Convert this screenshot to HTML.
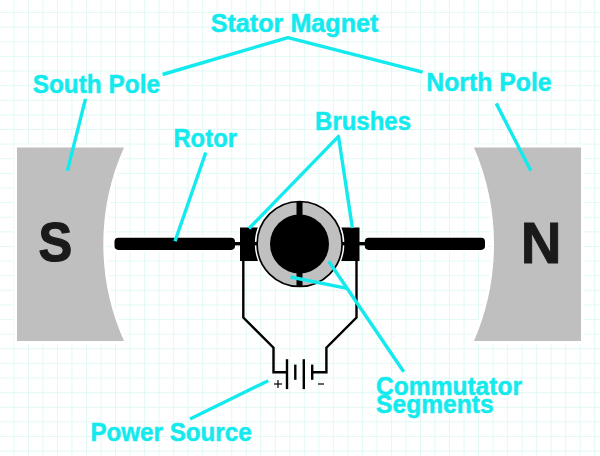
<!DOCTYPE html>
<html>
<head>
<meta charset="utf-8">
<style>
html,body{margin:0;padding:0;background:#fff;}
body{width:600px;height:456px;overflow:hidden;position:relative;}
svg{position:absolute;left:0;top:0;display:block;}
text{font-family:"Liberation Sans",sans-serif;font-weight:bold;}
</style>
</head>
<body>
<svg width="600" height="456" viewBox="0 0 600 456">
  <defs>
    <pattern id="grid" x="13.43" y="12.05" width="14.52" height="14.62" patternUnits="userSpaceOnUse">
      <rect x="0" y="0" width="1" height="14.62" fill="#e1f9f6"/>
      <rect x="0" y="0" width="14.52" height="1" fill="#e1f9f6"/>
    </pattern>
  </defs>
  <rect x="0" y="0" width="600" height="456" fill="#fff"/>
  <rect x="0" y="0" width="600" height="456" fill="url(#grid)"/>

  <!-- magnets -->
  <path d="M17,147.5 L124,147.5 A236.4,236.4 0 0 0 124,341 L17,341 Z" fill="#fff" stroke="#fff" stroke-width="6" stroke-linejoin="round"/>
  <path d="M474,147.5 L581,147.5 L581,341 L474,341 A244,244 0 0 0 474,147.5 Z" fill="#fff" stroke="#fff" stroke-width="6" stroke-linejoin="round"/>
  <path d="M17,147.5 L124,147.5 A236.4,236.4 0 0 0 124,341 L17,341 Z" fill="#bfbfbf"/>
  <path d="M474,147.5 L581,147.5 L581,341 L474,341 A244,244 0 0 0 474,147.5 Z" fill="#bfbfbf"/>
  <text x="0" y="0" font-size="55" text-anchor="middle" fill="#1a1a1a" stroke="#1a1a1a" stroke-width="1.2" transform="translate(55.5,261.4) scale(0.92,1)">S</text>
  <text x="0" y="0" font-size="57" text-anchor="middle" fill="#1a1a1a" stroke="#1a1a1a" stroke-width="0.9" transform="translate(541.2,262.6) scale(0.99,1)">N</text>

  <!-- shafts -->
  <rect x="112.5" y="235.8" width="124.5" height="16.1" rx="5.5" fill="#fff"/>
  <rect x="362.8" y="235.8" width="124.5" height="16.1" rx="5.5" fill="#fff"/>
  <rect x="114.5" y="237.8" width="120.5" height="12.1" rx="3.8" fill="#000"/>
  <rect x="364.8" y="237.8" width="120.2" height="12.1" rx="3.8" fill="#000"/>
  <rect x="233" y="242" width="9" height="3.4" fill="#000"/>
  <rect x="358" y="242" width="9" height="3.4" fill="#000"/>

  <!-- wires -->
  <path d="M243.3,258 V317.5 L273.5,347.7 V372.2 H287" stroke="#000" stroke-width="2.4" fill="none"/>
  <path d="M356.5,258 V317.5 L326.4,347.7 V372.2 H312.2" stroke="#000" stroke-width="2.4" fill="none"/>

  <!-- brushes -->
  <rect x="240" y="227.5" width="18" height="33.5" fill="#000"/>
  <rect x="341" y="227.5" width="18.5" height="33.5" fill="#000"/>

  <!-- commutator -->
  <circle cx="299.6" cy="244" r="43.5" fill="none" stroke="#fff" stroke-width="2.6"/>
  <rect x="252" y="242" width="8" height="3.4" fill="#000"/>
  <rect x="339" y="242" width="8" height="3.4" fill="#000"/>
  <circle cx="299.6" cy="244" r="42.5" fill="#c0c0c0" stroke="#000" stroke-width="1.7"/>
  <circle cx="299.5" cy="244" r="29.5" fill="#000"/>
  <rect x="296.5" y="201" width="6" height="15" fill="#000"/>
  <rect x="296.5" y="271" width="6" height="16" fill="#000"/>

  <!-- battery -->
  <g stroke="#000" stroke-width="2.4">
    <line x1="287" y1="359.2" x2="287" y2="389.1"/>
    <line x1="295.3" y1="364.6" x2="295.3" y2="379.8"/>
    <line x1="303.8" y1="359.2" x2="303.8" y2="389.1"/>
    <line x1="312.2" y1="364.6" x2="312.2" y2="379.8"/>
    <line x1="274" y1="384" x2="282" y2="384" stroke-width="1.2"/>
    <line x1="278" y1="380" x2="278" y2="388" stroke-width="1.2"/>
    <line x1="318" y1="384" x2="324" y2="384" stroke-width="1.2"/>
  </g>

  <!-- cyan leader lines -->
  <g stroke="#14eaee" stroke-width="3.4" fill="none" stroke-linejoin="round">
    <path d="M162.5,74.5 L288,37.6 L422.7,72.2"/>
    <path d="M85.5,98.9 L67.4,170.9"/>
    <path d="M496.2,103.4 L530.9,170.9"/>
    <path d="M205.8,152.5 L175,241.3"/>
    <path d="M249,228.5 L338.5,136.4 L352.4,228"/>
    <path d="M290.5,277 L347,288.4"/>
    <path d="M328.7,261.3 L403.7,371.8"/>
    <path d="M190,419 L268.3,380.7"/>
  </g>

  <!-- labels -->
  <g fill="#14eaee" stroke="#14eaee" stroke-width="0.5" font-size="26">
    <text x="210.7" y="32.3" textLength="167.8" lengthAdjust="spacingAndGlyphs">Stator Magnet</text>
    <text x="32.7" y="93.3" textLength="127.3" lengthAdjust="spacingAndGlyphs">South Pole</text>
    <text x="426.3" y="91" textLength="125.3" lengthAdjust="spacingAndGlyphs">North Pole</text>
    <text x="173.4" y="147" textLength="63.6" lengthAdjust="spacingAndGlyphs">Rotor</text>
    <text x="315.1" y="130.2" textLength="95.9" lengthAdjust="spacingAndGlyphs">Brushes</text>
    <text x="90.4" y="441" textLength="161.3" lengthAdjust="spacingAndGlyphs">Power Source</text>
    <text x="376.1" y="394.5" textLength="145.9" lengthAdjust="spacingAndGlyphs">Commutator</text>
    <text x="376.1" y="413" textLength="117.5" lengthAdjust="spacingAndGlyphs">Segments</text>
  </g>
</svg>
</body>
</html>
